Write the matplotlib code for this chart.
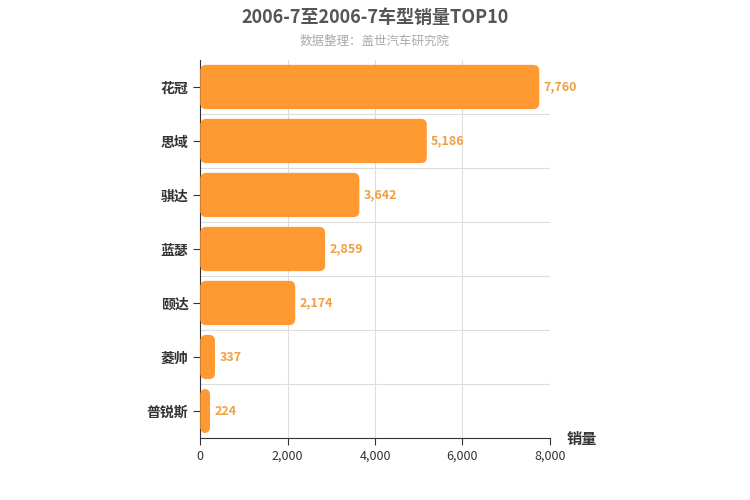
import matplotlib
matplotlib.use('Agg')
import matplotlib.pyplot as plt
from matplotlib.patches import FancyBboxPatch
import numpy as np

plt.rcParams['font.family'] = ['Noto Sans CJK SC', 'DejaVu Sans']

models = ["花冠", "思域", "骐达", "蓝瑟", "颐达", "菱帅", "普锐斯"]
sales = [7760, 5186, 3642, 2859, 2174, 337, 224]
xticks = [0, 2000, 4000, 6000, 8000]

fig = plt.figure(figsize=(7.5, 5), dpi=100)
ax = fig.add_axes([0.267, 0.124, 0.466, 0.756])

n = len(models)
ax.set_xlim(0, 8000)
ax.set_ylim(n - 0.5, -0.5)

h = 0.82
# rounding in pixel terms: x units per px / y units per px
x_per_px = 8000 / 350.0
y_per_px = n / 378.0
for i, v in enumerate(sales):
    box = FancyBboxPatch((0, i - h / 2), v, h,
                         boxstyle="round,pad=0,rounding_size=%f" % (6 * x_per_px),
                         mutation_aspect=y_per_px / x_per_px,
                         facecolor='#ff9a33', edgecolor='none', zorder=3)
    ax.add_patch(box)
    ax.text(v + 100, i, f"{v:,}", va='center', ha='left',
            fontsize=9, color='#f0a040', fontweight='bold', zorder=4)

ax.set_yticks(range(n))
ax.set_yticklabels(models, fontsize=10, fontweight='bold', color='#333333')
ax.set_xticks(xticks)
ax.set_xticklabels([f"{t:,}" for t in xticks], fontsize=9, color='#333333')

for t in xticks[1:]:
    ax.axvline(t, color='#dddddd', lw=0.8, zorder=0)
for b in np.arange(0.5, n - 0.5, 1):
    ax.axhline(b, color='#dddddd', lw=0.8, zorder=0)

for s in ['top', 'right']:
    ax.spines[s].set_visible(False)
ax.spines['left'].set_color('#333333')
ax.spines['bottom'].set_color('#333333')
ax.tick_params(axis='y', length=5, color='#333333')
ax.tick_params(axis='x', length=5, color='#333333')

fig.text(0.5, 0.965, "2006-7至2006-7车型销量TOP10", ha='center', va='center',
         fontsize=13, fontweight='bold', color='#555555')
fig.text(0.5, 0.918, "数据整理：盖世汽车研究院", ha='center', va='center',
         fontsize=9, color='#aaaaaa')
fig.text(0.755, 0.122, "销量", ha='left', va='center', fontsize=11,
         fontweight='bold', color='#333333')

fig.savefig("out.png", dpi=100)
